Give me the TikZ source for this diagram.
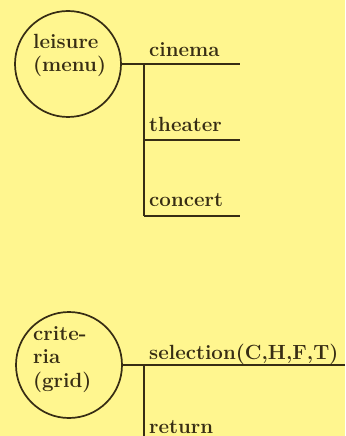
\documentclass[tikz,border=0pt]{standalone}
\usepackage{tikz}
\definecolor{paper}{RGB}{255,246,143}
\definecolor{ink}{RGB}{55,45,20}
\begin{document}
\begin{tikzpicture}[x=1bp,y=-1bp,
  every node/.style={text=ink},
  labelfont/.style={font=\fontsize{20.6}{23.5}\selectfont\bfseries},
  state/.style={circle,draw=ink,line width=1.7bp,minimum size=106bp,inner sep=0pt},
  statetext/.style={labelfont,align=left,inner sep=0pt,anchor=base west},
  option/.style={labelfont,inner sep=0pt,anchor=base west},
  wire/.style={draw=ink,line width=1.7bp}]
  \fill[paper] (0,0) rectangle (345,436);
  \useasboundingbox (0,0) rectangle (345,436);

  % leisure menu (text anchored at the baseline of its last line)
  \node[state] (leisure) at (68,64) {};
  \node[statetext] (leisuretxt) at (33,72) {leisure\\(menu)};
  \coordinate (lj) at (144,64);
  \coordinate (lc) at (240,64);
  \coordinate (lt0) at (144,140);
  \coordinate (lt) at (240,140);
  \coordinate (lk0) at (144,216);
  \coordinate (lk) at (240,216);
  \draw[wire] (leisure.east) -- (lc);
  \draw[wire] (lj) -- (lk0);
  \draw[wire] (lt0) -- (lt);
  \draw[wire] (lk0) -- (lk);
  \node[option] (cinema) at (149,57) {cinema};
  \node[option] (theater) at (149,132) {theater};
  \node[option] (concert) at (149,207) {concert};

  % criteria grid
  \node[state] (criteria) at (69,365) {};
  \node[statetext] (criteriatxt) at (33,387) {crite-\\ria\\(grid)};
  \coordinate (cj) at (144,365);
  \coordinate (cs) at (345,365);
  \coordinate (cb) at (144,436);
  \draw[wire] (criteria.east) -- (cs);
  \draw[wire] (cj) -- (cb);
  \node[option] (selection) at (149,359) {selection(C,H,F,T)};
  \node[option] (return) at (149,433) {return};
\end{tikzpicture}
\end{document}
